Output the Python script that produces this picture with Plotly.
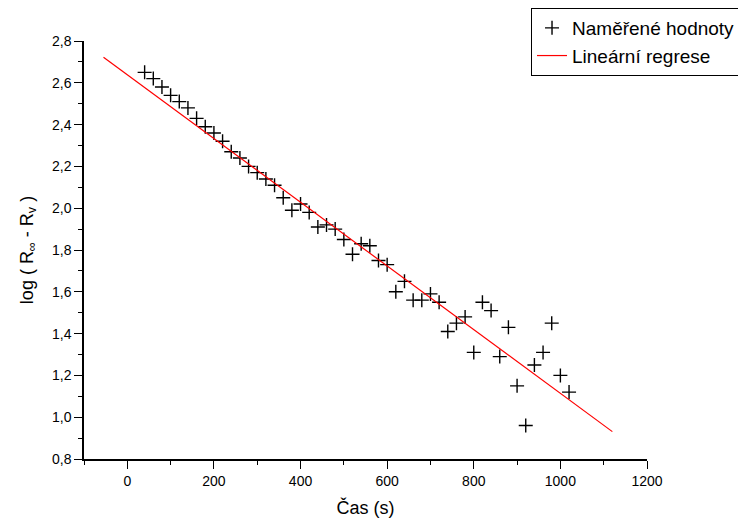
import plotly.graph_objects as go

# Measured data (time in s, log(R_inf - R_v))
time_s = [40, 60, 80, 100, 120, 140, 160, 180, 200, 220,
          240, 260, 280, 300, 320, 340, 360, 380, 400, 420,
          440, 460, 480, 500, 520, 540, 560, 580, 600, 620,
          640, 660, 680, 700, 720, 740, 760, 780, 800, 820,
          840, 860, 880, 900, 920, 940, 960, 980, 1000, 1020]
log_vals = [2.65, 2.62, 2.58, 2.54, 2.51, 2.48, 2.43, 2.39, 2.36, 2.32,
            2.27, 2.24, 2.20, 2.17, 2.14, 2.11, 2.05, 1.99, 2.02, 1.98,
            1.91, 1.92, 1.90, 1.85, 1.78, 1.83, 1.82, 1.75, 1.73, 1.60,
            1.65, 1.56, 1.56, 1.59, 1.55, 1.41, 1.45, 1.48, 1.31, 1.55,
            1.51, 1.29, 1.43, 1.15, 0.96, 1.25, 1.31, 1.45, 1.20, 1.12]

# Regression line end points
fit_x = [-55, 1120]
fit_y = [2.722, 0.931]

FONT = "Arial, Liberation Sans, sans-serif"

fig = go.Figure()
fig.add_trace(go.Scatter(
    x=time_s, y=log_vals, mode="markers", name="Naměřené hodnoty",
    marker=dict(symbol="cross-thin", size=10, color="black",
                line=dict(color="black", width=1.4)),
))
fig.add_trace(go.Scatter(
    x=fit_x, y=fit_y, mode="lines", name="Lineární regrese",
    line=dict(color="red", width=1.2),
))

axis_common = dict(
    showline=True, linecolor="black", linewidth=1.5,
    ticks="outside", ticklen=8, tickwidth=1.3, tickcolor="black",
    showgrid=False, zeroline=False, mirror=False, automargin=False,
    tickfont=dict(family=FONT, size=14, color="black"),
)

fig.update_layout(
    width=746, height=528,
    margin=dict(l=76, r=107, t=33, b=77, autoexpand=False),
    paper_bgcolor="white", plot_bgcolor="white",
    separators=", ",
    font=dict(family=FONT, color="black"),
    xaxis=dict(
        range=[-100, 1200], dtick=200, tick0=0,
        minor=dict(dtick=100, tick0=0, ticklen=4, tickwidth=1.3,
                   tickcolor="black", ticks="outside", showgrid=False),
        title=dict(text="Čas (s)", font=dict(family=FONT, size=18), standoff=14),
        **axis_common,
    ),
    yaxis=dict(
        range=[0.8, 2.8], dtick=0.2, tick0=0.8, tickformat=".1f",
        minor=dict(dtick=0.1, tick0=0.8, ticklen=4, tickwidth=1.3,
                   tickcolor="black", ticks="outside", showgrid=False),
        title=dict(text="log ( R<sub>∞</sub> - R<sub>v</sub> )",
                   font=dict(family=FONT, size=18), standoff=14),
        **axis_common,
    ),
    legend=dict(
        xref="container", yref="container",
        x=0.9826, y=1.0, xanchor="right", yanchor="top",
        bordercolor="black", borderwidth=1, bgcolor="white",
        font=dict(family=FONT, size=19, color="black"),
        tracegroupgap=0,
    ),
    showlegend=True,
)

fig.write_html("out.html")
